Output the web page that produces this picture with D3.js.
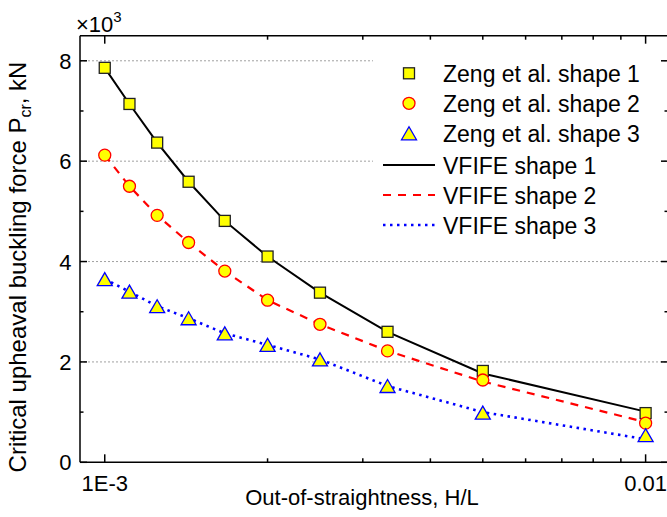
<!DOCTYPE html>
<html>
<head>
<meta charset="utf-8">
<script src="https://cdn.jsdelivr.net/npm/d3@7"></script>
<style>
    body { margin: 0; background: #fff; }
    svg { display: block; font-family: "Liberation Sans", Arial, sans-serif; }
</style>
</head>
<body>
<div id="chart"></div>
<script>
// Critical upheaval buckling force vs out-of-straightness

// H/L values (1/1000 ... 1/100)
const xValues = [0.001, 0.001111, 0.00125, 0.001429, 0.001667, 0.002, 0.0025, 0.003333, 0.005, 0.01];

// Zeng et al. markers (x10^3 kN)
const zengShape1 = [7.86, 7.14, 6.37, 5.59, 4.81, 4.10, 3.38, 2.60, 1.82, 0.98];
const zengShape2 = [6.12, 5.50, 4.92, 4.38, 3.81, 3.23, 2.75, 2.22, 1.64, 0.78];
const zengShape3 = [3.65, 3.40, 3.11, 2.87, 2.57, 2.34, 2.05, 1.52, 0.99, 0.54];

// VFIFE curves (x10^3 kN)
const vfifeShape1 = [7.86, 7.14, 6.37, 5.59, 4.81, 4.10, 3.38, 2.60, 1.77, 1.01];
const vfifeShape2 = [6.12, 5.50, 4.92, 4.38, 3.81, 3.23, 2.75, 2.22, 1.61, 0.80];
const vfifeShape3 = [3.65, 3.40, 3.11, 2.87, 2.57, 2.34, 2.05, 1.52, 1.00, 0.46];

// axes
const xDomain = [0.0009, 0.011];
const yDomain = [0, 8.5];
const xMajorTicks = [0.001, 0.01];
const xMajorLabels = ["1E-3", "0.01"];
const xMinorTicks = [0.002, 0.003, 0.004, 0.005, 0.006, 0.007, 0.008, 0.009];
const yMajorTicks = [0, 2, 4, 6, 8];
const yMajorLabels = ["0", "2", "4", "6", "8"];
const yMinorTicks = [1, 3, 5, 7];
const gridValues = [2, 4, 6, 8];

const legendLabels = [
    "Zeng et al. shape 1", "Zeng et al. shape 2", "Zeng et al. shape 3",
    "VFIFE shape 1", "VFIFE shape 2", "VFIFE shape 3"
];

const width = 667, height = 517;
const plot = { left: 80, right: 668, top: 35.7, bottom: 462.3 };

const svg = d3.select("#chart").append("svg")
    .attr("width", width)
    .attr("height", height);

const x = d3.scaleLog().domain(xDomain).range([plot.left, plot.right]);
const y = d3.scaleLinear().domain(yDomain).range([plot.bottom, plot.top]);

// dotted grid
svg.append("g").selectAll("line")
    .data(gridValues)
    .join("line")
    .attr("x1", plot.left).attr("x2", plot.right)
    .attr("y1", d => y(d)).attr("y2", d => y(d))
    .attr("stroke", "#a0a0a0")
    .attr("stroke-width", 1)
    .attr("stroke-dasharray", "2,2");

// legend background hides grid behind it
svg.append("rect")
    .attr("x", 373).attr("y", 48)
    .attr("width", 290).attr("height", 196)
    .attr("fill", "#fff");

// curves
const curves = [
    { vals: vfifeShape1, color: "#000", dash: null, w: 2 },
    { vals: vfifeShape2, color: "#ff0000", dash: "8,7", w: 2.2 },
    { vals: vfifeShape3, color: "#0000ff", dash: "2.5,4.5", w: 2.6 }
];

const line = d3.line()
    .x(d => x(d[0]))
    .y(d => y(d[1]));

curves.forEach(c => {
    svg.append("path")
        .datum(xValues.map((v, i) => [v, c.vals[i]]))
        .attr("d", line)
        .attr("fill", "none")
        .attr("stroke", c.color)
        .attr("stroke-width", c.w)
        .attr("stroke-dasharray", c.dash);
});

// marker shapes
function drawMarker(g, kind) {
    if (kind === 0) {
        g.append("rect")
            .attr("x", -5.5).attr("y", -5.5)
            .attr("width", 11).attr("height", 11)
            .attr("fill", "#ffff00")
            .attr("stroke", "#222")
            .attr("stroke-width", 1.3);
    } else if (kind === 1) {
        g.append("circle")
            .attr("r", 6)
            .attr("fill", "#ffff00")
            .attr("stroke", "#ff0000")
            .attr("stroke-width", 1.3);
    } else {
        g.append("path")
            .attr("d", "M0,-6.5L7.5,6.5L-7.5,6.5Z")
            .attr("fill", "#ffff00")
            .attr("stroke", "#0000ff")
            .attr("stroke-width", 1.3);
    }
}

[zengShape1, zengShape2, zengShape3].forEach((vals, k) => {
    svg.append("g").selectAll("g")
        .data(xValues.map((v, i) => [v, vals[i]]))
        .join("g")
        .attr("transform", d => `translate(${x(d[0])},${y(d[1])})`)
        .each(function () { drawMarker(d3.select(this), k); });
});

// frame
const axis = svg.append("g").attr("stroke", "#000").attr("stroke-width", 1.5);
axis.append("line").attr("x1", plot.left).attr("x2", plot.right).attr("y1", plot.bottom).attr("y2", plot.bottom);
axis.append("line").attr("x1", plot.left).attr("x2", plot.right).attr("y1", plot.top).attr("y2", plot.top);
axis.append("line").attr("x1", plot.left).attr("x2", plot.left).attr("y1", plot.top).attr("y2", plot.bottom);
axis.append("line").attr("x1", plot.right).attr("x2", plot.right).attr("y1", plot.top).attr("y2", plot.bottom);

// x ticks (inward, bottom and top)
const xTicks = xMajorTicks.map(v => [v, 8]).concat(xMinorTicks.map(v => [v, 4]));
xTicks.forEach(([v, len]) => {
    axis.append("line").attr("x1", x(v)).attr("x2", x(v))
        .attr("y1", plot.bottom).attr("y2", plot.bottom - len);
    axis.append("line").attr("x1", x(v)).attr("x2", x(v))
        .attr("y1", plot.top).attr("y2", plot.top + len);
});

// y ticks (inward, left and right)
const yTicks = yMajorTicks.map(v => [v, 7]).concat(yMinorTicks.map(v => [v, 3.5]));
yTicks.forEach(([v, len]) => {
    axis.append("line").attr("y1", y(v)).attr("y2", y(v))
        .attr("x1", plot.left).attr("x2", plot.left + len);
    axis.append("line").attr("y1", y(v)).attr("y2", y(v))
        .attr("x1", plot.right).attr("x2", plot.right - len);
});

// tick labels
svg.append("g").selectAll("text")
    .data(xMajorTicks)
    .join("text")
    .attr("x", d => x(d))
    .attr("y", 490.5)
    .attr("text-anchor", "middle")
    .style("font-size", "22px")
    .text((d, i) => xMajorLabels[i]);

svg.append("g").selectAll("text")
    .data(yMajorTicks)
    .join("text")
    .attr("x", 71.5)
    .attr("y", d => y(d) + 8)
    .attr("text-anchor", "end")
    .style("font-size", "22px")
    .text((d, i) => yMajorLabels[i]);

// x10^3 multiplier
const mult = svg.append("text")
    .attr("x", 76)
    .attr("y", 32)
    .style("font-size", "22px");
mult.append("tspan").text("\u00d710");
mult.append("tspan").attr("dy", -10).style("font-size", "15px").text("3");

// axis titles
svg.append("text")
    .attr("x", 362)
    .attr("y", 505)
    .attr("text-anchor", "middle")
    .style("font-size", "22px")
    .text("Out-of-straightness, H/L");

const yTitle = svg.append("text")
    .attr("transform", "translate(26,267) rotate(-90)")
    .attr("text-anchor", "middle")
    .style("font-size", "24px");
yTitle.append("tspan").text("Critical upheaval buckling force P");
yTitle.append("tspan").attr("dy", 5).style("font-size", "16px").text("cr");
yTitle.append("tspan").attr("dy", -5).text(", kN");

// legend
const legend = svg.append("g");
legendLabels.forEach((label, i) => {
    const ly = i < 3 ? 73.3 + i * 30 : 165 + (i - 3) * 30;
    if (i < 3) {
        const g = legend.append("g").attr("transform", `translate(409,${ly})`);
        drawMarker(g, i);
    } else {
        const c = curves[i - 3];
        legend.append("line")
            .attr("x1", 383).attr("x2", 435)
            .attr("y1", ly).attr("y2", ly)
            .attr("stroke", c.color)
            .attr("stroke-width", c.w)
            .attr("stroke-dasharray", c.dash);
    }
    legend.append("text")
        .attr("x", 443)
        .attr("y", ly + 8.5)
        .style("font-size", "23px")
        .text(label);
});
</script>
</body>
</html>
